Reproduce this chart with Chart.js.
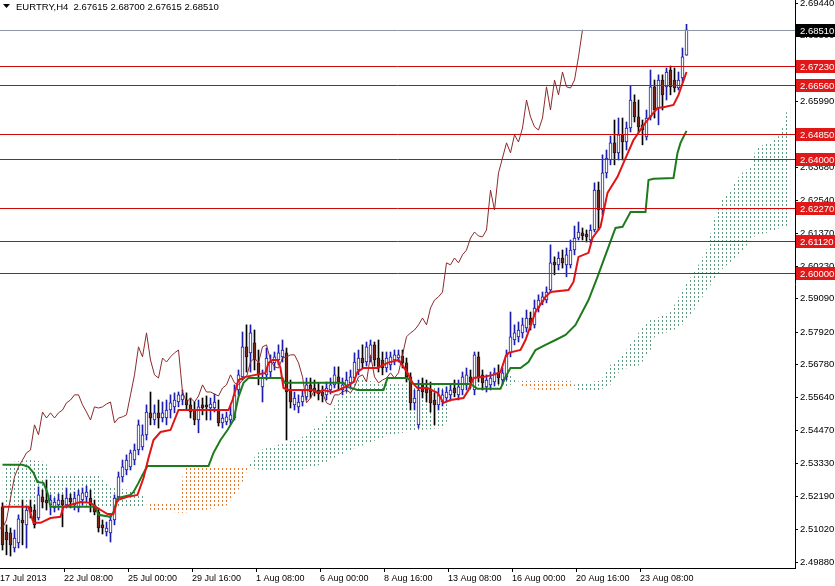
<!DOCTYPE html>
<html>
<head>
<meta charset="utf-8">
<title>EURTRY H4</title>
<script src="https://cdn.jsdelivr.net/npm/chart.js@4.4.1/dist/chart.umd.min.js"></script>
<style>
  html, body { margin: 0; padding: 0; background: #ffffff; }
  #wrap { width: 835px; height: 586px; }
</style>
</head>
<body>
<div id="wrap"><canvas id="chart" width="835" height="586"></canvas></div>
<script>
// EURTRY H4 candles with Ichimoku

const symbolTitle = "EURTRY,H4  2.67615 2.68700 2.67615 2.68510";

// time axis labels, one every 16 bars
const timeLabels = ["17 Jul 2013", "22 Jul 08:00", "25 Jul 00:00", "29 Jul 16:00", "1 Aug 08:00",
   "6 Aug 00:00", "8 Aug 16:00", "13 Aug 08:00", "16 Aug 00:00", "20 Aug 16:00", "23 Aug 08:00"];
const timeTickBars = [-0.625, 15.375, 31.375, 47.375, 63.375, 79.375, 95.375, 111.375, 127.375, 143.375, 159.375];

// price axis labels
const priceTicks = [2.4988, 2.5102, 2.5219, 2.5333, 2.5447, 2.5564, 2.5678, 2.5792, 2.5909,
   2.6023, 2.6137, 2.6254, 2.6368, 2.6485, 2.6599, 2.6713, 2.6830, 2.6944];

// horizontal levels and last price
const levels = [2.6723, 2.6656, 2.6485, 2.6400, 2.6227, 2.6112, 2.6000];
const lastPrice = 2.6851;

const opens = [
   2.5181, 2.5093, 2.5090, 2.5037, 2.5055, 2.5135, 2.5118, 2.5181, 2.5170, 2.5142,
   2.5216, 2.5205, 2.5188, 2.5177, 2.5188, 2.5205, 2.5188, 2.5212, 2.5188, 2.5177,
   2.5205, 2.5216, 2.5212, 2.5188, 2.5163, 2.5118, 2.5093, 2.5090, 2.5135, 2.5216,
   2.5286, 2.5310, 2.5321, 2.5345, 2.5380, 2.5391, 2.5433, 2.5510, 2.5485, 2.5510,
   2.5492, 2.5492, 2.5520, 2.5531, 2.5548, 2.5555, 2.5555, 2.5538, 2.5520, 2.5485,
   2.5538, 2.5538, 2.5527, 2.5527, 2.5520, 2.5475, 2.5478, 2.5485, 2.5492, 2.5590,
   2.5636, 2.5741, 2.5720, 2.5755, 2.5685, 2.5601, 2.5643, 2.5653, 2.5685, 2.5695,
   2.5706, 2.5720, 2.5590, 2.5538, 2.5531, 2.5548, 2.5566, 2.5608, 2.5597, 2.5590,
   2.5583, 2.5573, 2.5590, 2.5608, 2.5636, 2.5590, 2.5601, 2.5615, 2.5632, 2.5660,
   2.5702, 2.5688, 2.5702, 2.5748, 2.5702, 2.5695, 2.5667, 2.5678, 2.5695, 2.5702,
   2.5709, 2.5685, 2.5636, 2.5545, 2.5468, 2.5608, 2.5597, 2.5590, 2.5555, 2.5538,
   2.5548, 2.5562, 2.5573, 2.5597, 2.5573, 2.5590, 2.5608, 2.5636, 2.5590, 2.5706,
   2.5643, 2.5601, 2.5608, 2.5618, 2.5650, 2.5625, 2.5636, 2.5720, 2.5765, 2.5776,
   2.5790, 2.5807, 2.5842, 2.5818, 2.5877, 2.5898, 2.5905, 2.5940, 2.6038, 2.6028,
   2.6052, 2.6028, 2.6028, 2.6080, 2.6122, 2.6140, 2.6136, 2.6115, 2.6150, 2.6290,
   2.6220, 2.6350, 2.6395, 2.6455, 2.6420, 2.6483, 2.6458, 2.6507, 2.6598, 2.6546,
   2.6518, 2.6476, 2.6546, 2.6651, 2.6577, 2.6675, 2.6651, 2.6710, 2.6675, 2.6647,
   2.6682, 2.67615
];
const highs = [
   2.5195, 2.5118, 2.5107, 2.5100, 2.5153, 2.5205, 2.5184, 2.5205, 2.5188, 2.5251,
   2.5240, 2.5275, 2.5223, 2.5212, 2.5226, 2.5223, 2.5247, 2.5226, 2.5233, 2.5240,
   2.5247, 2.5254, 2.5240, 2.5205, 2.5177, 2.5135, 2.5128, 2.5153, 2.5223, 2.5303,
   2.5345, 2.5363, 2.5380, 2.5401, 2.5485, 2.5468, 2.5538, 2.5583, 2.5538, 2.5555,
   2.5548, 2.5555, 2.5573, 2.5580, 2.5583, 2.5590, 2.5580, 2.5562, 2.5548, 2.5555,
   2.5562, 2.5569, 2.5562, 2.5576, 2.5555, 2.5506, 2.5513, 2.5534, 2.5608, 2.5660,
   2.5793, 2.5818, 2.5818, 2.5800, 2.5730, 2.5660, 2.5737, 2.5713, 2.5723, 2.5748,
   2.5765, 2.5737, 2.5625, 2.5583, 2.5573, 2.5590, 2.5632, 2.5632, 2.5625, 2.5615,
   2.5604, 2.5618, 2.5632, 2.5671, 2.5671, 2.5632, 2.5653, 2.5660, 2.5720, 2.5730,
   2.5748, 2.5758, 2.5765, 2.5758, 2.5765, 2.5723, 2.5723, 2.5723, 2.5730, 2.5730,
   2.5730, 2.5702, 2.5650, 2.5590, 2.5625, 2.5632, 2.5625, 2.5618, 2.5580, 2.5597,
   2.5590, 2.5601, 2.5608, 2.5625, 2.5625, 2.5653, 2.5667, 2.5660, 2.5723, 2.5723,
   2.5660, 2.5643, 2.5653, 2.5667, 2.5678, 2.5667, 2.5730, 2.5863, 2.5818, 2.5828,
   2.5842, 2.5870, 2.5863, 2.5905, 2.5923, 2.5933, 2.5951, 2.6098, 2.6056, 2.6073,
   2.6080, 2.6087, 2.6115, 2.6164, 2.6178, 2.6157, 2.6150, 2.6168, 2.6315, 2.6318,
   2.6413, 2.6430, 2.6479, 2.6535, 2.6542, 2.6542, 2.6528, 2.6654, 2.6623, 2.6605,
   2.6535, 2.6570, 2.6710, 2.6675, 2.6693, 2.6693, 2.6717, 2.6724, 2.6717, 2.6703,
   2.6787, 2.6870
];
const lows = [
   2.5030, 2.5013, 2.5009, 2.5023, 2.5037, 2.5048, 2.5037, 2.5142, 2.5107, 2.5135,
   2.5177, 2.5170, 2.5153, 2.5163, 2.5170, 2.5111, 2.5177, 2.5177, 2.5170, 2.5163,
   2.5188, 2.5198, 2.5163, 2.5153, 2.5093, 2.5086, 2.5079, 2.5058, 2.5118, 2.5205,
   2.5268, 2.5293, 2.5310, 2.5328, 2.5363, 2.5380, 2.5415, 2.5468, 2.5468, 2.5457,
   2.5478, 2.5468, 2.5492, 2.5510, 2.5531, 2.5538, 2.5520, 2.5492, 2.5468, 2.5440,
   2.5503, 2.5485, 2.5485, 2.5513, 2.5464, 2.5457, 2.5468, 2.5471, 2.5485, 2.5573,
   2.5625, 2.5653, 2.5653, 2.5660, 2.5608, 2.5548, 2.5625, 2.5632, 2.5660, 2.5678,
   2.5688, 2.5415, 2.5527, 2.5520, 2.5510, 2.5534, 2.5555, 2.5562, 2.5569, 2.5555,
   2.5548, 2.5555, 2.5576, 2.5597, 2.5590, 2.5573, 2.5583, 2.5597, 2.5618, 2.5643,
   2.5667, 2.5674, 2.5688, 2.5674, 2.5653, 2.5643, 2.5653, 2.5660, 2.5678, 2.5688,
   2.5667, 2.5618, 2.5520, 2.5520, 2.5457, 2.5562, 2.5548, 2.5513, 2.5468, 2.5520,
   2.5534, 2.5548, 2.5555, 2.5566, 2.5555, 2.5573, 2.5590, 2.5597, 2.5573, 2.5618,
   2.5590, 2.5583, 2.5590, 2.5604, 2.5611, 2.5608, 2.5625, 2.5706, 2.5748, 2.5758,
   2.5772, 2.5793, 2.5800, 2.5807, 2.5863, 2.5888, 2.5895, 2.5930, 2.5993, 2.6010,
   2.6017, 2.5986, 2.6017, 2.6063, 2.6115, 2.6115, 2.6108, 2.6105, 2.6143, 2.6150,
   2.6203, 2.6332, 2.6378, 2.6378, 2.6395, 2.6395, 2.6430, 2.6493, 2.6528, 2.6493,
   2.6448, 2.6465, 2.6535, 2.6542, 2.6518, 2.6570, 2.6605, 2.6623, 2.6633, 2.6640,
   2.6668, 2.67615
];
const closes = [
   2.5048, 2.5065, 2.5048, 2.5072, 2.5139, 2.5125, 2.5170, 2.5163, 2.5118, 2.5223,
   2.5198, 2.5195, 2.5205, 2.5198, 2.5205, 2.5188, 2.5212, 2.5198, 2.5212, 2.5223,
   2.5230, 2.5233, 2.5188, 2.5163, 2.5107, 2.5107, 2.5107, 2.5135, 2.5212, 2.5286,
   2.5321, 2.5345, 2.5370, 2.5380, 2.5468, 2.5433, 2.5513, 2.5492, 2.5510, 2.5492,
   2.5510, 2.5520, 2.5545, 2.5555, 2.5573, 2.5573, 2.5538, 2.5513, 2.5485, 2.5531,
   2.5527, 2.5531, 2.5541, 2.5548, 2.5475, 2.5492, 2.5496, 2.5503, 2.5573, 2.5643,
   2.5741, 2.5706, 2.5790, 2.5695, 2.5643, 2.5632, 2.5702, 2.5688, 2.5706, 2.5720,
   2.5730, 2.5583, 2.5548, 2.5562, 2.5548, 2.5569, 2.5608, 2.5583, 2.5583, 2.5576,
   2.5569, 2.5597, 2.5608, 2.5643, 2.5615, 2.5608, 2.5625, 2.5636, 2.5688, 2.5702,
   2.5685, 2.5741, 2.5748, 2.5695, 2.5671, 2.5667, 2.5702, 2.5706, 2.5713, 2.5713,
   2.5685, 2.5636, 2.5545, 2.5562, 2.5590, 2.5583, 2.5580, 2.5545, 2.5538, 2.5573,
   2.5573, 2.5583, 2.5590, 2.5580, 2.5601, 2.5636, 2.5643, 2.5618, 2.5713, 2.5636,
   2.5615, 2.5625, 2.5632, 2.5650, 2.5632, 2.5650, 2.5713, 2.5776, 2.5790, 2.5800,
   2.5818, 2.5842, 2.5818, 2.5877, 2.5905, 2.5916, 2.5933, 2.6035, 2.6028, 2.6052,
   2.6035, 2.6063, 2.6080, 2.6122, 2.6143, 2.6129, 2.6126, 2.6150, 2.6290, 2.6220,
   2.6350, 2.6402, 2.6455, 2.6420, 2.6483, 2.6458, 2.6507, 2.6605, 2.6546, 2.6511,
   2.6500, 2.6542, 2.6651, 2.6570, 2.6675, 2.6623, 2.6703, 2.6651, 2.6647, 2.6675,
   2.6756, 2.6851
];

// Tenkan-sen (red) vertices: [bar, price]
const tenkan = [
   [0, 2.5181], [6.5, 2.5181], [7.75, 2.5125], [9.5, 2.5125], [12, 2.5142], [14.5, 2.5146],
   [15.25, 2.5181], [19.5, 2.5198], [22, 2.5195], [23.75, 2.5177], [26.25, 2.5156], [27.75, 2.5156],
   [28.75, 2.5205], [31.25, 2.5216], [33.75, 2.5223], [35.25, 2.5282], [36.5, 2.5352], [37.75, 2.5415],
   [39.5, 2.5443], [42, 2.5450], [44, 2.5520], [56.5, 2.5520], [57.5, 2.5555], [59, 2.5625],
   [60.75, 2.5636], [65.75, 2.5650], [66.5, 2.5685], [67.5, 2.5695], [68.75, 2.5695], [69.5, 2.5667],
   [70.25, 2.5597], [71.5, 2.5590], [77.5, 2.5590], [78.75, 2.5580], [80, 2.5590], [82.5, 2.5583],
   [84, 2.5590], [85.75, 2.5601], [87.75, 2.5618], [88.75, 2.5653], [90.25, 2.5667], [93.75, 2.5667],
   [96.25, 2.5685], [99, 2.5695], [100.25, 2.5671], [101.25, 2.5650], [102.5, 2.5615], [103.75, 2.5597],
   [106.25, 2.5597], [108.75, 2.5580], [110.25, 2.5545], [112, 2.5555], [115.25, 2.5562], [116.5, 2.5590],
   [117.75, 2.5632], [120.25, 2.5636], [122.75, 2.5643], [124.5, 2.5653], [125.75, 2.5706], [126.5, 2.5720],
   [129.5, 2.5730], [130.75, 2.5765], [133.25, 2.5863], [135.75, 2.5916], [137, 2.5933], [141.5, 2.5940],
   [142.75, 2.5968], [144, 2.6056], [146.5, 2.6070], [147.5, 2.6122], [149.5, 2.6161], [151.25, 2.6280],
   [152, 2.6297], [153.75, 2.6336], [155.25, 2.6385], [157.75, 2.6465], [160, 2.6511], [161.25, 2.6535],
   [163.75, 2.6577], [165.25, 2.6580], [167.75, 2.6588], [169, 2.6623], [171, 2.6703]
];

// Kijun-sen (green) vertices
const kijun = [
   [0, 2.5328], [5, 2.5328], [6.5, 2.5321], [7.75, 2.5300], [8.75, 2.5268], [10.25, 2.5265],
   [11.25, 2.5230], [12, 2.5181], [23.25, 2.5181], [24, 2.5153], [27, 2.5146], [27.75, 2.5163],
   [28.75, 2.5212], [32, 2.5223], [32.75, 2.5233], [34, 2.5265], [35, 2.5293], [36.25, 2.5324],
   [51.5, 2.5324], [52.75, 2.5370], [54.5, 2.5415], [56.25, 2.5450], [57.75, 2.5485], [59, 2.5566],
   [60.25, 2.5615], [61.5, 2.5632], [70, 2.5632], [70.5, 2.5615], [85.25, 2.5615], [86.25, 2.5601],
   [88.75, 2.5590], [95.25, 2.5590], [96.25, 2.5632], [101.25, 2.5632], [102.75, 2.5611], [117, 2.5611],
   [118.75, 2.5594], [124.5, 2.5594], [125.75, 2.5636], [127, 2.5667], [129.5, 2.5667], [131.5, 2.5688],
   [133.25, 2.5730], [135.75, 2.5748], [138.25, 2.5765], [140.75, 2.5783], [143.25, 2.5818], [146.5, 2.5905],
   [148.75, 2.5986], [151.5, 2.6091], [153.25, 2.6157], [155, 2.6161], [157, 2.6213], [160.75, 2.6213],
   [161.5, 2.6325], [162.75, 2.6329], [167.75, 2.6332], [168.75, 2.6420], [169.5, 2.6455], [171, 2.6497]
];

// Kumo: bar positions with Senkou span A and B
const cloudBars = [0, 2, 7, 10.75, 12, 24.5, 27, 34.5, 37, 44.5, 45.25, 55.75, 59.5, 62, 64.5, 74.5,
   79.5, 84.5, 87, 97, 104.5, 110.75, 112.5, 117, 125.75, 128.25, 129.5, 135.75, 142, 143.25, 149.5,
   152, 154.5, 159.5, 162, 163.25, 167, 170, 174, 176, 178, 179.5, 182, 184.5, 187, 188.5, 192, 194.5, 196, 197];
const spanA = [2.5310, 2.5338, 2.5345, 2.5338, 2.5293, 2.5289, 2.5251, 2.5233, 2.5170, 2.5160, 2.5160,
   2.5181, 2.5251, 2.5338, 2.5380, 2.5422, 2.5468, 2.5566, 2.5632, 2.5611, 2.5608, 2.5604, 2.5604,
   2.5629, 2.5660, 2.5625, 2.5604, 2.5583, 2.5601, 2.5611, 2.5622, 2.5678, 2.5702, 2.5800, 2.5835,
   2.5840, 2.5863, 2.5940, 2.6028, 2.6080, 2.6192, 2.6248, 2.6290, 2.6346, 2.6371, 2.6441, 2.6455,
   2.6483, 2.6563, 2.6598];
const spanB = [2.5188, 2.5188, 2.5184, 2.5181, 2.5181, 2.5181, 2.5181, 2.5181, 2.5195, 2.5198, 2.5321,
   2.5321, 2.5321, 2.5317, 2.5310, 2.5310, 2.5328, 2.5363, 2.5380, 2.5433, 2.5450, 2.5457, 2.5583,
   2.5590, 2.5597, 2.5618, 2.5622, 2.5622, 2.5622, 2.5590, 2.5590, 2.5608, 2.5660, 2.5678, 2.5730,
   2.5783, 2.5793, 2.5818, 2.5891, 2.5940, 2.5975, 2.6007, 2.6038, 2.6063, 2.6115, 2.6132, 2.6143,
   2.6157, 2.6164, 2.6168];

const chikouShift = 26;

// colours
const bullColor = "#1c1cb0";
const bearFill = "#7a2616";
const bearEdge = "#1a1a1a";
const tenkanColor = "#e01414";
const kijunColor = "#1d7a1d";
const chikouColor = "#8c2a2a";
const levelColor = "#cc0a0a";
const fontFamily = "'Liberation Sans', Arial, sans-serif";

const canvas = document.getElementById("chart");
const ctx = canvas.getContext("2d");

function makeHatch(color) {
   const tile = document.createElement("canvas");
   tile.width = 4;
   tile.height = 4;
   const g = tile.getContext("2d");
   g.fillStyle = color;
   g.fillRect(2, 0, 1, 2);
   return ctx.createPattern(tile, "repeat");
}

const greenHatch = makeHatch("#5b9a80");
const orangeHatch = makeHatch("#e0782e");

const isBull = closes.map((c, i) => c >= opens[i]);

// level lines, last price line and their axis labels
const levelsPlugin = {
   id: "levels",
   afterDatasetsDraw(chart) {
      const { ctx, chartArea, scales } = chart;
      const y = scales.y;
      ctx.save();
      ctx.lineWidth = 1;
      ctx.strokeStyle = "#8a96a4";
      let py = Math.round(y.getPixelForValue(lastPrice)) + 0.5;
      ctx.beginPath();
      ctx.moveTo(chartArea.left, py);
      ctx.lineTo(chartArea.right, py);
      ctx.stroke();
      ctx.strokeStyle = levelColor;
      levels.forEach((lv) => {
         const ly = Math.round(y.getPixelForValue(lv)) + 0.5;
         ctx.beginPath();
         ctx.moveTo(chartArea.left, ly);
         ctx.lineTo(chartArea.right, ly);
         ctx.stroke();
      });
      ctx.restore();
   },
   afterDraw(chart) {
      const { ctx, chartArea, scales } = chart;
      const y = scales.y;
      ctx.save();
      ctx.font = "9.5px " + fontFamily;
      ctx.textBaseline = "middle";
      const drawBox = (value, bg) => {
         const py = Math.round(y.getPixelForValue(value));
         ctx.fillStyle = bg;
         ctx.fillRect(chartArea.right + 1, py - 6, chart.width - chartArea.right - 1, 13);
         ctx.fillStyle = "#ffffff";
         ctx.fillText(value.toFixed(5), chartArea.right + 5, py + 1);
      };
      levels.forEach((lv) => drawBox(lv, "#e01818"));
      drawBox(lastPrice, "#000000");

      // symbol header
      ctx.fillStyle = "#000000";
      ctx.beginPath();
      ctx.moveTo(chartArea.left + 3, 4);
      ctx.lineTo(chartArea.left + 10, 4);
      ctx.lineTo(chartArea.left + 6.5, 8);
      ctx.closePath();
      ctx.fill();
      ctx.textBaseline = "middle";
      ctx.fillText(symbolTitle, chartArea.left + 16, 7);
      ctx.restore();
   },
};

new Chart(ctx, {
   type: "bar",
   data: {
      datasets: [
         {
            type: "line",
            label: "Tenkan",
            data: tenkan.map((p) => ({ x: p[0], y: p[1] })),
            borderColor: tenkanColor,
            borderWidth: 2,
            pointRadius: 0,
            tension: 0,
            fill: false,
            order: 1,
         },
         {
            type: "line",
            label: "Kijun",
            data: kijun.map((p) => ({ x: p[0], y: p[1] })),
            borderColor: kijunColor,
            borderWidth: 2,
            pointRadius: 0,
            tension: 0,
            fill: false,
            order: 2,
         },
         {
            type: "line",
            label: "Chikou",
            data: closes.map((c, i) => ({ x: i - chikouShift, y: c })),
            borderColor: chikouColor,
            borderWidth: 1,
            pointRadius: 0,
            tension: 0,
            fill: false,
            order: 3,
         },
         {
            label: "Body",
            data: closes.map((c, i) => ({ x: i, y: [opens[i], c] })),
            backgroundColor: isBull.map((b) => (b ? "#ffffff" : bearFill)),
            borderColor: isBull.map((b) => (b ? bullColor : bearEdge)),
            borderWidth: 1,
            borderSkipped: false,
            barThickness: 3,
            grouped: false,
            minBarLength: 1,
            order: 4,
         },
         {
            label: "Wick",
            data: closes.map((c, i) => ({ x: i, y: [lows[i], highs[i]] })),
            backgroundColor: isBull.map((b) => (b ? bullColor : "#000000")),
            borderWidth: 0,
            barThickness: 1,
            grouped: false,
            order: 5,
         },
         {
            type: "line",
            label: "Span A",
            data: cloudBars.map((b, i) => ({ x: b, y: spanA[i] })),
            borderWidth: 0,
            borderColor: "rgba(0,0,0,0)",
            pointRadius: 0,
            tension: 0,
            fill: { target: "+1", above: greenHatch, below: orangeHatch },
            order: 6,
         },
         {
            type: "line",
            label: "Span B",
            data: cloudBars.map((b, i) => ({ x: b, y: spanB[i] })),
            borderWidth: 0,
            borderColor: "rgba(0,0,0,0)",
            pointRadius: 0,
            tension: 0,
            fill: false,
            order: 7,
         },
      ],
   },
   options: {
      responsive: false,
      animation: false,
      events: [],
      layout: { padding: 0 },
      plugins: {
         legend: { display: false },
         tooltip: { enabled: false },
         title: { display: false },
      },
      scales: {
         x: {
            type: "linear",
            min: -0.625,
            max: 198.125,
            offset: false,
            afterBuildTicks: (axis) => {
               axis.ticks = timeTickBars.map((v) => ({ value: v }));
            },
            afterFit: (axis) => {
               axis.height = 18;
               axis.paddingLeft = 0;
               axis.paddingRight = 0;
            },
            ticks: {
               autoSkip: false,
               maxRotation: 0,
               minRotation: 0,
               align: "start",
               padding: 1,
               color: "#000000",
               font: { family: fontFamily, size: 9 },
               callback: (value, index) => timeLabels[index],
            },
            grid: {
               display: true,
               offset: false,
               drawOnChartArea: false,
               drawTicks: true,
               tickLength: 4,
               color: (c) => (c.index === 0 ? "rgba(0,0,0,0)" : "#000000"),
            },
            border: { display: true, color: "#000000" },
         },
         y: {
            type: "linear",
            position: "right",
            min: 2.4967,
            max: 2.6955,
            afterBuildTicks: (axis) => {
               axis.ticks = priceTicks.map((v) => ({ value: v }));
            },
            afterFit: (axis) => {
               axis.width = 40;
               axis.paddingTop = 0;
               axis.paddingBottom = 0;
            },
            ticks: {
               autoSkip: false,
               padding: 2,
               color: "#000000",
               font: { family: fontFamily, size: 9.5 },
               callback: (value) => Number(value).toFixed(5),
            },
            grid: {
               display: true,
               drawOnChartArea: false,
               drawTicks: true,
               tickLength: 3,
               color: "#000000",
            },
            border: { display: true, color: "#000000" },
         },
      },
   },
   plugins: [levelsPlugin],
});
</script>
</body>
</html>
